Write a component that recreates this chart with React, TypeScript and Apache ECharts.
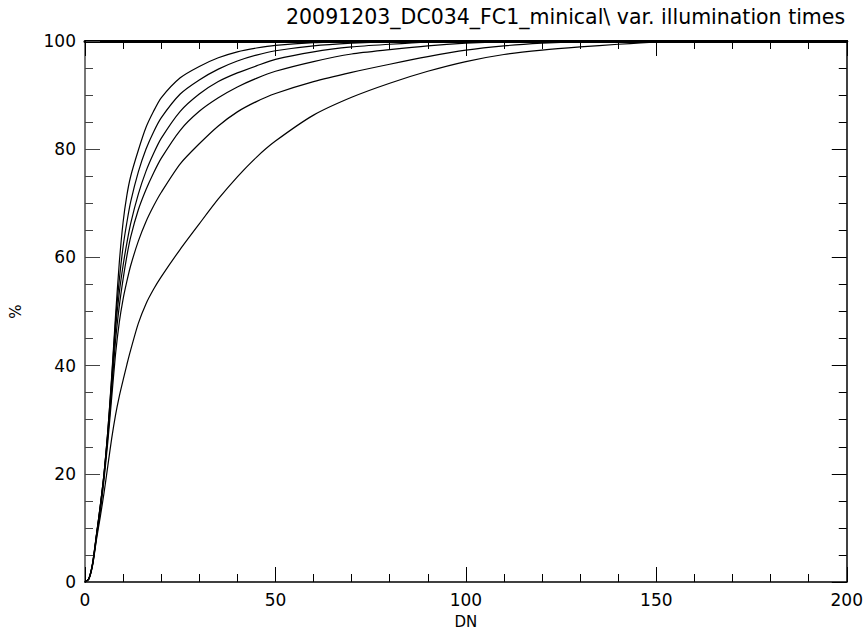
import React, { useEffect, useRef } from "react";
import * as echarts from "echarts";

const TITLE = "20091203_DC034_FC1_minical\\ var. illumination times";
const X_NAME = "DN";
const Y_NAME = "%";

const DN = [0, 1, 2, 3, 4, 5, 6, 7, 8, 9, 10, 11, 12, 14, 16, 18, 20, 25, 30, 35, 40, 45, 50, 60, 70, 80, 90, 100, 110, 120, 130, 140, 150, 160, 180, 200, 203];

const curve1 = [0, 0.6, 3.3, 8.5, 14, 20, 28, 38, 49, 59, 66.5, 71.5, 75, 79.8, 84, 87, 89.5, 93.2, 95.3, 96.9, 98, 98.7, 99.2, 99.7, 99.9, 100, 100, 100, 100, 100, 100, 100, 100, 100, 100, 100, 100];
const curve2 = [0, 0.6, 3.5, 8.7, 14, 20, 28, 37.5, 48, 55.8, 62, 66.5, 70.3, 75.8, 80, 83.2, 85.8, 90.2, 92.8, 94.8, 96.3, 97.4, 98.2, 99.1, 99.6, 99.9, 100, 100, 100, 100, 100, 100, 100, 100, 100, 100, 100];
const curve3 = [0, 0.6, 3.5, 8.7, 14, 20, 27.5, 36.5, 46.6, 53.5, 58.5, 62.7, 66.3, 71.7, 75.9, 79.2, 82, 87, 90.2, 92.5, 94.1, 95.4, 96.6, 98, 98.9, 99.4, 99.8, 100, 100, 100, 100, 100, 100, 100, 100, 100, 100];
const curve4 = [0, 0.6, 3.4, 8.5, 13.5, 19.5, 27, 35.5, 44.5, 51, 56, 60.3, 63.8, 68.8, 72.5, 75.6, 78.3, 83.5, 87, 89.5, 91.5, 93.1, 94.4, 96.2, 97.6, 98.4, 99.1, 99.6, 99.9, 100, 100, 100, 100, 100, 100, 100, 100];
const curve5 = [0, 0.5, 3.2, 8.2, 13, 19, 26, 34, 42, 48, 52.3, 55.6, 58.5, 63, 66.6, 69.5, 72, 77.3, 81, 84.3, 86.9, 88.8, 90.3, 92.5, 94.2, 95.7, 97.1, 98.3, 99.1, 99.6, 99.9, 100, 100, 100, 100, 100, 100];
const curve6 = [0, 0.5, 3.1, 7.8, 12, 16.5, 21.5, 26.5, 30.8, 34.3, 37.3, 40.2, 42.9, 47.8, 51.4, 54.1, 56.4, 61.5, 66.2, 70.8, 74.9, 78.5, 81.5, 86.3, 89.6, 92.2, 94.4, 96.2, 97.5, 98.3, 98.9, 99.4, 99.8, 100, 100, 100, 100];

const CURVES = [curve1, curve2, curve3, curve4, curve5, curve6];

const FONT = "DejaVu Sans";

export default function App() {
  const ref = useRef<HTMLDivElement>(null);
  useEffect(() => {
    if (!ref.current) return;
    const chart = echarts.init(ref.current, undefined, { renderer: "svg" });
    const tickCommon = {
      inside: true,
      length: 15,
      lineStyle: { color: "#000", width: 1 },
    };
    const minorCommon = {
      show: true,
      length: 8,
      lineStyle: { color: "#000", width: 1 },
    };
    chart.setOption({
      animation: false,
      backgroundColor: "#fff",
      title: {
        text: TITLE,
        left: 281,
        top: 1,
        textStyle: { fontFamily: FONT, fontSize: 20.5, fontWeight: "normal", color: "#000" },
      },
      grid: { left: 83, top: 41, width: 765, height: 541, containLabel: false },
      xAxis: [
        {
          type: "value",
          min: 0,
          max: 200,
          interval: 50,
          position: "bottom",
          name: X_NAME,
          nameLocation: "middle",
          nameGap: 32,
          nameTextStyle: { fontFamily: FONT, fontSize: 15, color: "#000" },
          axisLine: { show: true, onZero: false, lineStyle: { color: "#000", width: 1.5 } },
          axisTick: tickCommon,
          minorTick: { ...minorCommon, splitNumber: 5 },
          splitLine: { show: false },
          axisLabel: { fontFamily: FONT, fontSize: 17, color: "#000", margin: 9 },
        },
        {
          type: "value",
          min: 0,
          max: 200,
          interval: 50,
          position: "top",
          axisLine: { show: true, onZero: false, lineStyle: { color: "#000", width: 3 } },
          axisTick: tickCommon,
          minorTick: { ...minorCommon, splitNumber: 5 },
          splitLine: { show: false },
          axisLabel: { show: false },
        },
      ],
      yAxis: [
        {
          type: "value",
          min: 0,
          max: 100,
          interval: 20,
          position: "left",
          name: Y_NAME,
          nameLocation: "middle",
          nameGap: 62,
          nameRotate: 90,
          nameTextStyle: { fontFamily: FONT, fontSize: 15, color: "#000" },
          axisLine: { show: true, onZero: false, lineStyle: { color: "#777", width: 2 } },
          axisTick: { ...tickCommon, lineStyle: { color: "#444", width: 1 } },
          minorTick: { ...minorCommon, splitNumber: 4, lineStyle: { color: "#444", width: 1 } },
          splitLine: { show: false },
          axisLabel: { fontFamily: FONT, fontSize: 17, color: "#000", margin: 9 },
        },
        {
          type: "value",
          min: 0,
          max: 100,
          interval: 20,
          position: "right",
          axisLine: { show: true, onZero: false, lineStyle: { color: "#000", width: 1.5 } },
          axisTick: tickCommon,
          minorTick: { ...minorCommon, splitNumber: 4 },
          splitLine: { show: false },
          axisLabel: { show: false },
        },
      ],
      series: CURVES.map((c, i) => ({
        type: "line",
        name: "curve" + (i + 1),
        xAxisIndex: 0,
        yAxisIndex: 0,
        data: DN.map((x, j) => [x, c[j]]),
        showSymbol: false,
        symbol: "none",
        smooth: 0.25,
        clip: false,
        lineStyle: { color: "#000", width: 1.2 },
        silent: true,
      })),
    });
    return () => chart.dispose();
  }, []);
  return (
    <div
      ref={ref}
      style={{ position: "fixed", left: 0, top: 0, width: 866, height: 635, background: "#fff" }}
    />
  );
}
